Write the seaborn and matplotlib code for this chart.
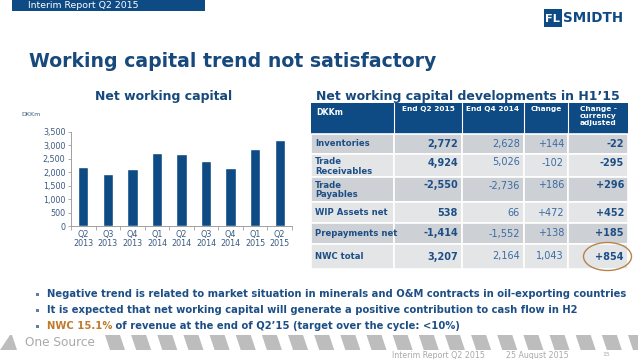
import matplotlib
matplotlib.use('Agg')
import matplotlib.pyplot as plt
import seaborn as sns
from matplotlib.patches import Rectangle, Ellipse, Polygon

# chart data
quarters = ['Q2\n2013', 'Q3\n2013', 'Q4\n2013', 'Q1\n2014', 'Q2\n2014',
            'Q3\n2014', 'Q4\n2014', 'Q1\n2015', 'Q2\n2015']
nwc = [2190, 1925, 2120, 2710, 2670, 2420, 2164, 2860, 3207]
y_ticks = [0, 500, 1000, 1500, 2000, 2500, 3000, 3500]

# table data
col_headers = ['DKKm', 'End Q2 2015', 'End Q4 2014', 'Change', 'Change -\ncurrency\nadjusted']
row_labels = ['Inventories', 'Trade\nReceivables', 'Trade\nPayables',
              'WIP Assets net', 'Prepayments net', 'NWC total']
end_q2_2015 = ['2,772', '4,924', '-2,550', '538', '-1,414', '3,207']
end_q4_2014 = ['2,628', '5,026', '-2,736', '66', '-1,552', '2,164']
change = ['+144', '-102', '+186', '+472', '+138', '1,043']
change_fx = ['-22', '-295', '+296', '+452', '+185', '+854']

bullets = ['Negative trend is related to market situation in minerals and O&M contracts in oil-exporting countries',
           'It is expected that net working capital will generate a positive contribution to cash flow in H2']
bullet3_hl = 'NWC 15.1%'
bullet3_rest = ' of revenue at the end of Q2\u201915 (target over the cycle: <10%)'

DARK = '#0E4A84'
TITLE = '#17497D'
TXT = '#1D4F86'
LIGHT_TXT = '#3A6CA3'
ORANGE = '#C07A2C'
GREY = '#A9A9A9'

sns.set_theme(style='white')
plt.rcParams['font.family'] = ['DejaVu Sans']

W, H = 638, 359
fig = plt.figure(figsize=(W / 100, H / 100), dpi=100)
renderer = fig.canvas.get_renderer()

# background axes in pixel coordinates for the slide decoration and the table
bg = fig.add_axes([0, 0, 1, 1])
bg.set_xlim(0, W)
bg.set_ylim(H, 0)
bg.axis('off')


def fit(x, y, s, width, **kw):
    t = bg.text(x, y, s, fontsize=10, **kw)
    w = t.get_window_extent(renderer).width
    t.set_fontsize(10 * width / w)
    return t


# top banner
bg.add_patch(Rectangle((12, 0), 193, 11, color=DARK, lw=0))
fit(28, 6, 'Interim Report Q2 2015', 111, color='white', va='center')

# logo
bg.add_patch(Rectangle((544, 9), 18, 18, color=DARK, lw=0))
fit(545.5, 18.5, 'FL', 15, color='white', fontweight='bold', va='center')
fit(563, 18.5, 'SMIDTH', 60, color=DARK, fontweight='bold', va='center')

# titles
fit(29, 67, 'Working capital trend not satisfactory', 408, color=TITLE,
    fontweight='bold', va='baseline')
fit(95, 100, 'Net working capital', 138, color=TITLE, fontweight='bold', va='baseline')
fit(316, 100, 'Net working capital developments in H1\u201915', 306, color=TITLE,
    fontweight='bold', va='baseline')
fit(21, 114, 'DKKm', 19, color='#3A5A7A', va='center')

# table
col_x = [311, 394, 462, 524, 568, 628]
row_y = [103, 134, 154, 177, 202, 223, 244, 269]
bg.add_patch(Rectangle((col_x[0], row_y[0]), col_x[-1] - col_x[0], row_y[1] - row_y[0],
                       color=DARK, lw=0))
for j in range(1, 5):
    bg.plot([col_x[j], col_x[j]], [row_y[0], row_y[1]], color='white', lw=0.8)
fit(316, 108, col_headers[0], 27, color='white', fontweight='bold', va='top')
for j in range(1, 5):
    cx = (col_x[j] + col_x[j + 1]) / 2
    bg.text(cx, 106.5, col_headers[j], color='white', fontweight='bold',
            ha='center', va='top', fontsize=5.3, linespacing=1.15)

columns = [end_q2_2015, end_q4_2014, change, change_fx]
styles = [('bold', TXT), ('normal', LIGHT_TXT), ('normal', LIGHT_TXT), ('bold', TXT)]
for i, lab in enumerate(row_labels):
    top, bot = row_y[i + 1], row_y[i + 2]
    shade = '#CDD0D4' if i % 2 == 0 else '#E3E5E7'
    for j in range(5):
        bg.add_patch(Rectangle((col_x[j], top), col_x[j + 1] - col_x[j], bot - top,
                               facecolor=shade, edgecolor='white', lw=1.2))
    if '\n' in lab:
        yl = top + 8.5
        bg.text(315, top + 3.5, lab, color=TXT, fontweight='bold', fontsize=6.1,
                va='top', linespacing=1.05)
    else:
        yl = (top + bot) / 2
        bg.text(315, yl, lab, color=TXT, fontweight='bold', fontsize=6.1, va='center')
    for j, vals in enumerate(columns):
        fw, c = styles[j]
        bg.text(col_x[j + 2] - 4, yl, vals[i], color=c, fontweight=fw, fontsize=7,
                ha='right', va='center')

bg.add_patch(Ellipse((607.5, 256.5), 48, 28, fill=False, edgecolor='#B8834A', lw=1))

# bullets
by = [294, 310, 326]
fs = fit(47, by[0], bullets[0], 579, color=TXT, fontweight='bold', va='center').get_fontsize()
bg.text(47, by[1], bullets[1], color=TXT, fontweight='bold', va='center', fontsize=fs)
t3 = bg.text(47, by[2], bullet3_hl, color=ORANGE, fontweight='bold', va='center', fontsize=fs)
x3 = 47 + t3.get_window_extent(renderer).width
bg.text(x3, by[2], bullet3_rest, color=TXT, fontweight='bold', va='center', fontsize=fs)
for yb in by:
    bg.add_patch(Rectangle((36, yb - 1.5), 2.5, 3, color='#5A7FA8', lw=0))

# footer stripes
bg.add_patch(Polygon([(10, 335), (12, 335), (17, 350), (0, 350)], color='#BDBDBD', lw=0))
for i in range(21):
    x0 = 105 + i * 26.15
    bg.add_patch(Polygon([(x0, 335), (x0 + 15, 335), (x0 + 20, 350), (x0 + 5, 350)],
                         color='#BDBDBD', lw=0))
fit(25, 343, 'One Source', 70, color=GREY, va='center')
fit(392, 355, 'Interim Report Q2 2015', 93, color=GREY, va='center')
fit(506, 355, '25 August 2015', 62, color=GREY, va='center')
fit(602, 355, '15', 8, color=GREY, va='center')

# bar chart
ax = fig.add_axes([71 / W, 1 - 226 / H, 221 / W, 94 / H])
sns.barplot(x=quarters, y=nwc, color=DARK, saturation=1, width=0.42, ax=ax)
ax.set_xlim(-0.5, len(quarters) - 0.5)
ax.set_ylim(0, 3500)
ax.set_yticks(y_ticks)
ax.set_yticklabels([f'{v:,}' for v in y_ticks])
ax.set_xticks(range(len(quarters)))
ax.set_xticks([k + 0.5 for k in range(-1, len(quarters))], minor=True)
ax.tick_params(axis='x', which='major', length=0, labelsize=5.8, labelcolor='#3C5A80', pad=3)
ax.tick_params(axis='x', which='minor', length=3, width=0.6, color='#A0A0A0', bottom=True)
ax.tick_params(axis='y', length=2, width=0.6, color='#A0A0A0', labelsize=5.8,
               labelcolor='#3C5A80', pad=2, left=True)
for lab in ax.get_xticklabels():
    lab.set_linespacing(1.0)
ax.set_xlabel('')
ax.set_ylabel('')
ax.patch.set_alpha(0)
sns.despine(ax=ax)
for s in ['left', 'bottom']:
    ax.spines[s].set_color('#A0A0A0')
    ax.spines[s].set_linewidth(0.7)

fig.savefig('out.png', dpi=100)
